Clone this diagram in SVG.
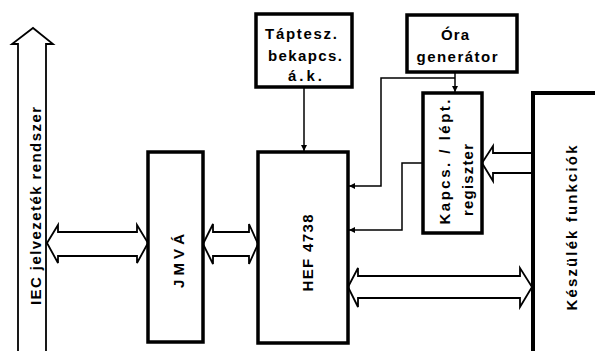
<svg xmlns="http://www.w3.org/2000/svg" width="595" height="351" viewBox="0 0 595 351">
<style>
.box{fill:#fff;stroke:#000;stroke-width:3.5}
.bus{fill:#fff;stroke:#000;stroke-width:1.8;stroke-linejoin:miter}
.ln{fill:none;stroke:#000;stroke-width:1.5}
text{font-family:"Liberation Sans",Arial,sans-serif;font-weight:bold;font-size:15px;fill:#000}
.c{text-anchor:middle}
</style>
<defs>
<marker id="ah" viewBox="0 0 10 10" refX="10" refY="5" markerWidth="6" markerHeight="6" markerUnits="userSpaceOnUse" orient="auto">
<path d="M0,0 L10,5 L0,10 z" fill="#000"/>
</marker>
</defs>
<rect width="595" height="351" fill="#fff"/>

<g id="iec">
<polygon class="bus" points="18,352 18,44 12,44 33,28 53,44 46,44 46,352"/>
<text class="c" transform="translate(35,206) rotate(-90)" y="6" textLength="198">IEC jelvezeték rendszer</text>
</g>

<g id="connectors">
<polygon class="bus" points="47,243 58,225 58,232 137,232 137,225 148,243 137,263 137,256 58,256 58,263"/>
<polygon class="bus" points="203,244 213,224 213,232 249,232 249,224 258,244 249,264 249,256 213,256 213,264"/>
<polygon class="bus" points="348,287 358,268 358,276 520,276 520,268 532,287 520,307 520,298 358,298 358,307"/>
<polyline class="bus" points="532,153 493,153 493,146 482,163 493,181 493,173 532,173"/>
<line class="ln" x1="304" y1="87" x2="304" y2="151" marker-end="url(#ah)"/>
<line class="ln" x1="455" y1="72" x2="455" y2="92" marker-end="url(#ah)"/>
<polyline class="ln" points="455,78 381,78 381,186 349,186" marker-end="url(#ah)"/>
<polyline class="ln" points="423,163 402,163 402,230 349,230" marker-end="url(#ah)"/>
</g>

<g id="jmva">
<rect class="box" x="148" y="152" width="55" height="190"/>
<text class="c" transform="translate(178,261) rotate(-90)" y="6" textLength="54">JMVÁ</text>
</g>

<g id="hef">
<rect class="box" x="258" y="152" width="90" height="191"/>
<text class="c" transform="translate(307,253) rotate(-90)" y="6" textLength="77">HEF 4738</text>
</g>

<g id="taptesz">
<rect class="box" x="256" y="14" width="96" height="73"/>
<text class="c" x="301" y="39" textLength="72">Táptesz.</text>
<text class="c" x="305" y="61" textLength="74">bekapcs.</text>
<text class="c" x="305" y="81" textLength="34">á.k.</text>
</g>

<g id="ora">
<rect class="box" x="407" y="15" width="110" height="57"/>
<text class="c" x="455" y="40" textLength="28">Óra</text>
<text class="c" x="457" y="62" textLength="81">generátor</text>
</g>

<g id="kapcs">
<rect class="box" x="423" y="93" width="59" height="140"/>
<text class="c" transform="translate(444,162) rotate(-90)" y="6" textLength="125">Kapcs. / lépt.</text>
<text class="c" transform="translate(468,180) rotate(-90)" y="5" textLength="72">regiszter</text>
</g>

<g id="keszulek">
<path d="M596,93 H533 V352" fill="none" stroke="#000" stroke-width="4"/>
<text class="c" transform="translate(571,228) rotate(-90)" y="6" textLength="165">Készülék funkciók</text>
</g>
</svg>
